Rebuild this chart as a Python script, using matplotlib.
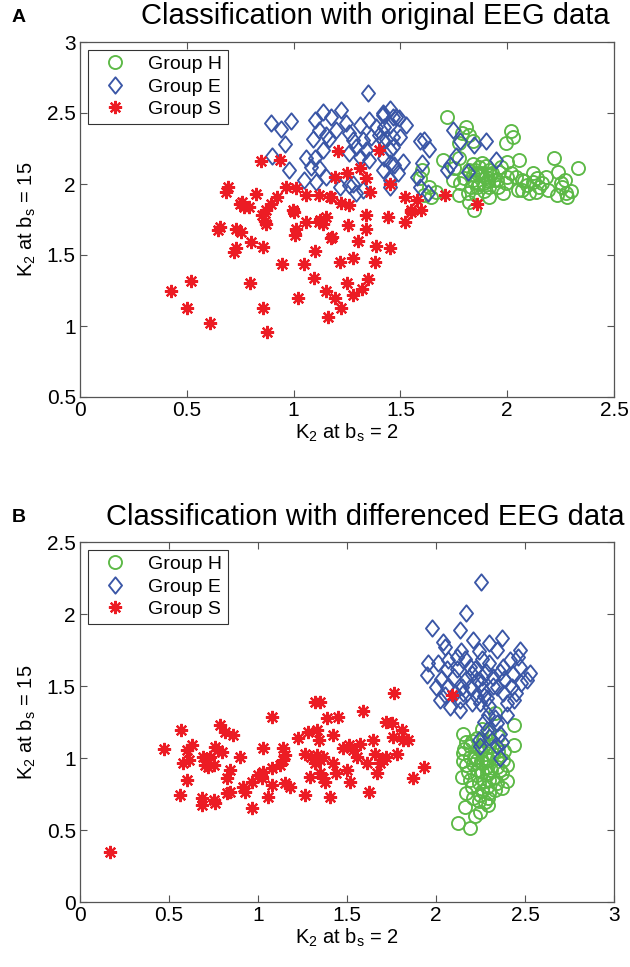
import matplotlib
matplotlib.use("Agg")
import matplotlib.pyplot as plt
from matplotlib.path import Path

plt.rcParams['font.family'] = ['Liberation Sans', 'DejaVu Sans']
plt.rcParams['mathtext.fontset'] = 'custom'
plt.rcParams['mathtext.rm'] = 'Liberation Sans'
plt.rcParams['mathtext.it'] = 'Liberation Sans'
plt.rcParams['mathtext.bf'] = 'Liberation Sans:bold'

# ---------------- Panel A data (original EEG) ----------------
A_S = [(0.425,1.25),(0.52,1.32),(0.50,1.125),(0.61,1.02),(0.795,1.30),(0.857,1.13),(0.874,0.96),
       (0.646,1.676),(0.655,1.70),(0.73,1.68),(0.755,1.66),(0.72,1.52),(0.73,1.55),(0.80,1.59),(0.857,1.555),
       (0.945,1.437),(1.05,1.44),(1.095,1.336),(1.10,1.53),(1.02,1.20),(1.153,1.25),(1.195,1.20),(1.16,1.065),
       (1.18,1.63),(1.215,1.45),(1.01,1.68),(1.005,1.64),(1.06,1.73),(1.12,1.73),(1.137,1.72),(0.87,1.72),(0.865,1.74),
       (0.85,1.78),(0.75,1.86),(0.76,1.875),(0.79,1.84),(0.826,1.93),(0.685,1.945),(0.92,1.91),(0.896,1.86),(0.872,1.82),
       (0.997,1.82),(1.06,1.92),(1.12,1.92),(1.17,1.91),
       (0.846,2.164),(0.935,2.17),(1.207,2.23),(1.40,2.24),(1.195,2.05),(1.25,2.075),(1.31,2.11),(1.34,2.04),(1.45,2.00),(1.36,1.945),
       (0.693,1.98),(0.77,1.84),(0.966,1.98),(1.01,1.97),(1.176,1.91),(1.22,1.865),(1.26,1.85),(1.0,1.805),(1.125,1.75),(1.153,1.77),
       (1.254,1.71),(1.34,1.78),(1.34,1.68),(1.44,1.77),(1.52,1.91),(1.523,1.73),(1.176,1.62),(1.386,1.56),(1.55,1.82),
       (1.58,1.89),(1.55,1.805),(1.597,1.82),(1.71,1.92),(1.86,1.86),
       (1.25,1.30),(1.28,1.22),(1.32,1.26),(1.35,1.33),(1.28,1.48),(1.38,1.45),(1.45,1.55),(1.30,1.60),(1.22,1.13)]

A_E = [(1.347,2.643),(0.896,2.43),(0.94,2.39),(0.99,2.446),(0.958,2.28),(0.90,2.20),(0.98,2.10),
       (1.098,2.45),(1.137,2.51),(1.176,2.47),(1.22,2.52),(1.09,2.32),(1.12,2.38),(1.153,2.345),(1.168,2.32),(1.20,2.38),
       (1.246,2.43),(1.26,2.357),(1.277,2.31),(1.31,2.415),(1.355,2.45),(1.386,2.40),(1.417,2.50),(1.45,2.53),(1.48,2.47),(1.527,2.415),
       (1.324,2.31),(1.363,2.333),(1.40,2.345),(1.433,2.32),(1.464,2.26),(1.50,2.333),
       (1.06,2.18),(1.098,2.18),(1.137,2.24),(1.083,2.12),(1.12,2.11),(1.05,2.03),(1.106,2.016),(1.153,2.05),
       (1.215,1.98),(1.26,1.99),(1.29,1.935),(1.324,1.96),(1.277,2.0),
       (1.26,2.216),(1.31,2.19),(1.355,2.17),(1.34,2.24),(1.29,2.26),
       (1.45,2.146),(1.487,2.075),(1.51,2.157),(1.417,2.10),(1.45,2.03),(1.45,1.98),(1.59,2.30),(1.58,2.05),
       (1.417,2.486),(1.464,2.474),(1.495,2.463),(1.45,2.415),(1.425,2.40),
       (1.464,2.33),(1.417,2.31),(1.45,2.24),(1.47,2.134),(1.425,2.18),
       (1.61,2.31),(1.635,2.25),(1.60,2.146),(1.59,1.98),(1.63,1.935),
       (1.745,2.38),(1.78,2.30),(1.846,2.275),(1.90,2.30),(1.76,2.20),(1.73,2.134),(1.72,2.10),(1.815,2.087),(1.947,2.17)]

A_H = [(1.72,2.474),(1.807,2.40),(1.79,2.357),(1.82,2.345),(1.838,2.30),(1.776,2.287),
       (2.017,2.37),(2.025,2.333),(1.994,2.287),(2.056,2.17),(2.0,2.157),
       (1.60,2.10),(1.59,2.04),(1.635,1.98),(1.643,1.91),(1.667,1.946),(1.61,1.92),
       (1.70,2.17),(1.75,2.11),(1.776,2.18),(1.745,2.03),(1.78,2.005),(1.80,2.04),(1.82,2.10),(1.838,2.03),
       (1.86,1.98),(1.853,1.92),(1.815,1.935),(1.776,1.92),(1.82,1.875),(1.87,2.12),(1.877,2.075),(1.90,2.05),
       (1.89,2.005),(1.916,1.98),(1.94,2.03),(1.916,2.10),(1.96,2.087),(1.955,1.98),(1.994,2.005),(1.98,1.935),
       (1.916,1.91),(1.846,1.82),
       (2.04,2.05),(2.07,2.03),(2.095,1.99),(2.12,2.016),(2.14,2.04),(2.165,2.005),(2.134,1.946),(2.10,1.935),
       (2.07,1.96),(2.05,1.96),
       (2.22,2.18),(2.24,2.087),(2.258,1.98),(2.274,1.935),(2.28,1.91),(2.235,1.92),(2.33,2.11),(2.18,2.05),(2.19,1.96),
       (1.88,2.06),(1.92,2.06),(1.86,2.08),(1.90,2.13),(1.84,2.06),
       (1.85,2.10),(1.88,2.15),(1.93,2.08),(1.95,2.03),(1.87,2.00),(1.91,2.02),(1.84,2.14),(1.97,2.12),
       (2.02,2.08),(2.00,2.05),(1.83,1.98),(1.89,1.95),(2.08,2.02),(2.15,1.98),(2.12,2.08),(2.25,2.01),
       (2.30,1.95),(2.27,2.03)]

# ---------------- Panel B data (differenced EEG) ----------------
B_S = [(0.169,0.35),(2.09,1.44),
       (0.472,1.06),(0.566,1.194),(0.60,1.056),(0.627,1.09),(0.58,0.963),(0.61,0.986),(0.60,0.847),(0.56,0.743),
       (0.684,0.72),(0.684,0.674),(0.75,0.708),(0.758,0.685),(0.693,1.01),(0.72,0.94),(0.75,0.95),(0.70,0.95),
       (0.758,1.078),(0.777,1.056),(0.796,1.044),(0.73,1.01),(0.787,1.229),(0.815,1.183),(0.86,1.16),
       (0.824,0.859),(0.843,0.917),(0.824,0.755),(0.843,0.766),(0.90,1.01),(0.917,0.80),(0.927,0.766),
       (0.968,0.835),(1.0,0.882),(1.03,0.905),(1.02,0.859),(0.968,0.65),(1.03,1.067),(1.08,1.287),
       (1.077,0.93),(1.124,0.95),(1.142,0.986),(1.152,1.02),(1.142,1.067),(1.077,0.812),(1.058,0.731),
       (1.152,0.824),(1.18,0.80),(1.226,1.137),(1.283,1.183),(1.33,1.194),(1.34,1.125),(1.32,1.39),(1.348,1.39),
       (1.264,1.03),(1.30,1.01),(1.33,1.02),(1.348,0.986),(1.367,1.01),(1.32,0.963),
       (1.292,0.87),(1.348,0.894),(1.367,0.859),(1.376,0.835),(1.264,0.743),(1.404,0.731),
       (1.39,1.276),(1.45,1.287),(1.423,1.16),(1.423,0.963),(1.44,0.894),(1.50,0.917),(1.517,0.835),
       (1.48,1.067),(1.51,1.09),(1.535,1.056),(1.573,1.10),(1.555,1.01),(1.61,0.963),(1.59,1.328),
       (1.648,1.125),(1.626,0.766),(1.657,1.03),(1.685,0.963),(1.70,0.986),(1.72,1.01),(1.667,0.894),
       (1.72,1.25),(1.75,1.24),(1.807,1.194),(1.845,1.125),(1.816,1.125),(1.76,1.148),(1.78,1.03),
       (1.764,1.45),(1.87,0.859),(1.93,0.94)]

B_E = [(2.25,2.224),(2.17,2.005),(1.976,1.90),(2.135,1.889),
       (2.04,1.808),(2.05,1.773),(2.21,1.82),(2.30,1.797),(2.37,1.83),(2.47,1.75),(2.34,1.75),
       (1.957,1.657),(1.948,1.576),(2.013,1.657),(2.07,1.68),(2.116,1.70),(2.163,1.69),(2.19,1.634),
       (2.257,1.69),(2.30,1.657),(2.378,1.634),(2.416,1.68),(2.47,1.634),(2.528,1.588),(2.51,1.54),
       (2.00,1.495),(2.06,1.495),(2.107,1.449),(2.144,1.495),(2.135,1.40),(2.19,1.495),(2.23,1.54),
       (2.266,1.472),(2.32,1.565),(2.34,1.495),(2.378,1.449),(2.425,1.495),(2.45,1.449),(2.44,1.40),
       (2.285,1.415),(2.23,1.426),(2.02,1.40),(2.08,1.356),(2.135,1.333),(2.247,1.38),
       (2.294,1.30),(2.34,1.24),(2.285,1.194),(2.24,1.125),(2.30,1.148),(2.36,1.17),(2.34,1.08),
       (2.37,1.113),(2.36,0.998),(2.247,1.08),
       (2.20,1.58),(2.28,1.60),(2.36,1.60),(2.10,1.56),(2.25,1.52),
       (2.03,1.55),(2.12,1.62),(2.17,1.55),(2.22,1.62),(2.26,1.56),(2.32,1.50),(2.38,1.55),(2.43,1.58),
       (2.48,1.52),(2.05,1.44),(2.15,1.45),(2.20,1.38),(2.27,1.43),(2.40,1.38),(2.46,1.70),(2.14,1.74),
       (2.24,1.74),(2.06,1.62),(2.30,1.36),(2.33,1.28),(2.27,1.25),(2.40,1.30)]

B_H = [(2.33,1.31),(2.44,1.229),(2.44,1.09),
       (2.153,1.17),(2.17,1.113),(2.19,1.08),(2.228,1.137),(2.265,1.125),(2.30,1.08),
       (2.153,1.033),(2.19,1.01),(2.228,0.986),(2.266,0.963),(2.30,0.986),(2.34,0.94),(2.378,0.986),
       (2.37,0.894),(2.285,0.894),(2.228,0.917),(2.17,0.951),
       (2.144,0.87),(2.19,0.847),(2.24,0.824),(2.285,0.80),(2.34,0.824),(2.37,0.79),(2.30,0.755),
       (2.247,0.743),(2.21,0.72),(2.275,0.697),(2.163,0.662),(2.247,0.627),(2.294,0.674),
       (2.125,0.547),(2.19,0.512),
       (2.25,1.05),(2.28,1.0),(2.32,1.03),(2.26,0.9),(2.31,0.92),(2.22,1.0),(2.35,1.05),(2.3,0.85),
       (2.20,1.12),(2.24,1.06),(2.27,1.08),(2.31,1.12),(2.34,1.00),(2.36,0.92),(2.21,0.96),(2.18,0.90),
       (2.23,0.88),(2.27,0.84),(2.32,0.86),(2.33,0.78),(2.26,0.77),(2.20,0.80),(2.17,0.76),(2.24,0.70),
       (2.29,0.72),(2.38,1.05),(2.40,0.95),(2.15,0.98),(2.28,0.94),(2.25,0.98),(2.30,1.18),(2.26,1.20),
       (2.35,1.15),(2.22,0.60),(2.40,0.84),(2.16,1.06)]

labels = ['Group H', 'Group E', 'Group S']
titles = ['Classification with original EEG data', 'Classification with differenced EEG data']
panel_letters = ['A', 'B']
xlims = [(0, 2.5), (0, 3)]
ylims = [(0.5, 3), (0, 2.5)]
xticks = [[0, 0.5, 1, 1.5, 2, 2.5], [0, 0.5, 1, 1.5, 2, 2.5, 3]]
yticks = [[0.5, 1, 1.5, 2, 2.5, 3], [0, 0.5, 1, 1.5, 2, 2.5]]

GREEN = '#5cb946'
BLUE = '#3a56a6'
RED = '#ec1c24'

diamond = Path([(0, 1), (0.8, 0), (0, -1), (-0.8, 0), (0, 1)],
               [Path.MOVETO, Path.LINETO, Path.LINETO, Path.LINETO, Path.CLOSEPOLY])
star = (8, 2, 0)

def fmt(v):
    return ('%g' % v)

fig = plt.figure(figsize=(6.30, 9.67), dpi=100)
axA = fig.add_axes([80/630, 1-397/967, 534/630, 355/967])
axB = fig.add_axes([80/630, 1-902/967, 534/630, 360/967])

datasets = [(A_H, A_E, A_S), (B_H, B_E, B_S)]
for i, ax in enumerate([axA, axB]):
    H, E, S = datasets[i]
    ax.plot([p[0] for p in H], [p[1] for p in H], linestyle='none', marker='o',
            markersize=9.4, markerfacecolor='none', markeredgecolor=GREEN, markeredgewidth=1.35, label=labels[0])
    ax.plot([p[0] for p in E], [p[1] for p in E], linestyle='none', marker=diamond,
            markersize=11.8, markerfacecolor='none', markeredgecolor=BLUE, markeredgewidth=1.35, label=labels[1])
    ax.plot([p[0] for p in S], [p[1] for p in S], linestyle='none', marker=star,
            markersize=9.5, markerfacecolor='none', markeredgecolor=RED, markeredgewidth=1.6, label=labels[2])
    ax.set_xlim(*xlims[i])
    ax.set_ylim(*ylims[i])
    ax.set_xticks(xticks[i])
    ax.set_yticks(yticks[i])
    ax.set_xticklabels([fmt(v) for v in xticks[i]])
    ax.set_yticklabels([fmt(v) for v in yticks[i]])
    ax.tick_params(direction='in', length=5, width=0.8, top=True, right=True,
                   labelsize=15, color='#555555', pad=3)
    for sp in ax.spines.values():
        sp.set_color('#555555')
        sp.set_linewidth(0.9)
    ax.set_xlabel('K$_2$ at b$_s$ = 2', fontsize=14.5, labelpad=1)
    ax.set_ylabel('K$_2$ at b$_s$ = 15', fontsize=14.5, labelpad=6)
    leg = ax.legend(loc='upper left', fontsize=14, frameon=True, fancybox=False,
                    edgecolor='black', borderaxespad=0.4, handlelength=2.2,
                    handletextpad=0.6, labelspacing=0.25, borderpad=0.3)
    leg.get_frame().set_linewidth(0.8)

fig.text(375/630, 1-16/967, titles[0], fontsize=21, ha='center', va='center')
fig.text(365/630, 1-517/967, titles[1], fontsize=21, ha='center', va='center')
fig.text(12/630, 1-17/967, panel_letters[0], fontsize=14, fontweight='bold', ha='left', va='center')
fig.text(12/630, 1-518/967, panel_letters[1], fontsize=14, fontweight='bold', ha='left', va='center')

fig.savefig('out.png', dpi=100)
